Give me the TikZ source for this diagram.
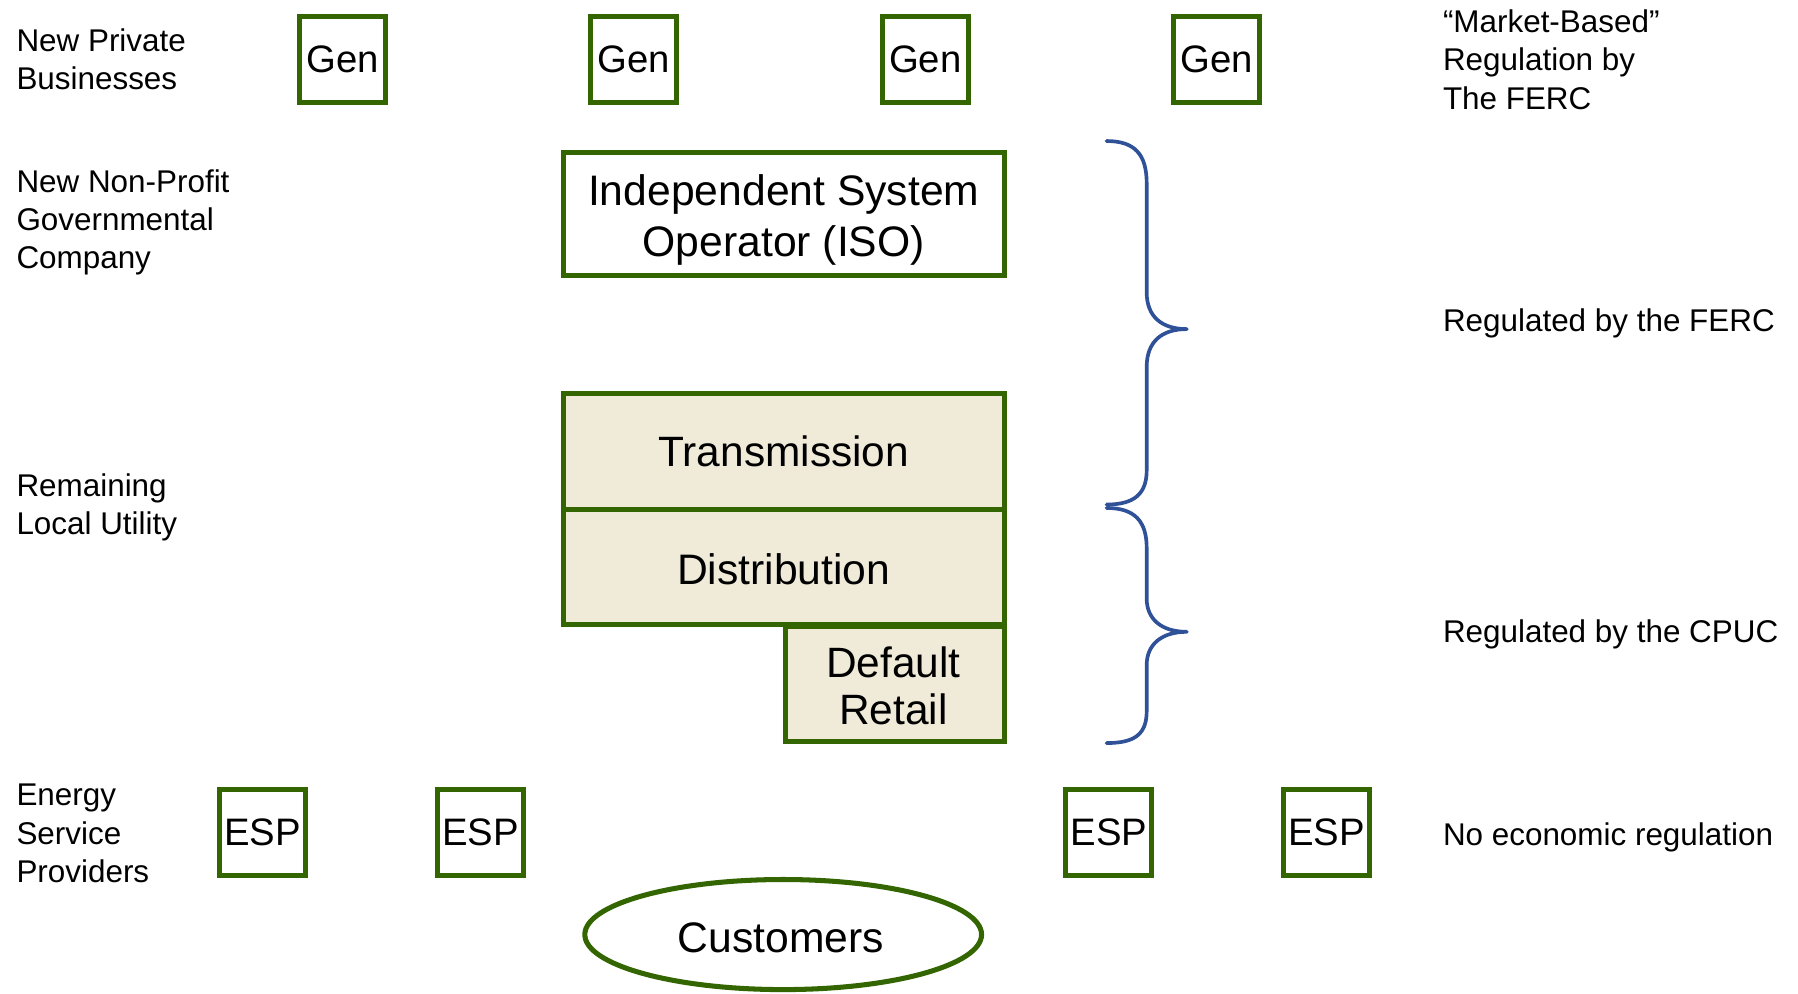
\documentclass[tikz,border=0pt]{standalone}
\usepackage{fontspec}
\setmainfont{Liberation Sans}
\usetikzlibrary{shapes.geometric}
\definecolor{boxgreen}{HTML}{336600}
\definecolor{tan}{HTML}{F0EBD9}
\definecolor{braceblue}{HTML}{2F5197}
\tikzset{
  lbl/.style={anchor=west, align=left, inner sep=0pt, font=\fontsize{13.7pt}{16.75pt}\selectfont},
  smallbox/.style={draw=boxgreen, line width=2.2pt, fill=white, minimum width=37.5pt, minimum height=37.5pt, inner sep=0pt, font=\fontsize{16.7pt}{19pt}\selectfont},
  bigbox/.style={draw=boxgreen, line width=2.2pt, inner sep=0pt, align=center, font=\fontsize{18.5pt}{22.5pt}\selectfont},
  bigtext/.style={inner sep=0pt, align=center, font=\fontsize{18.6pt}{22.5pt}\selectfont},
  brace/.style={draw=braceblue, line width=1.6pt, line cap=round, line join=round}
}
\begin{document}
\begin{tikzpicture}[x=0.5pt, y=-0.5pt]
\useasboundingbox (0,0) rectangle (1568,866);
% left labels
\node[lbl] (l1) at (14,51.5) {New Private\\Businesses};
\node[lbl] (l2) at (14,194) {New Non-Profit\\Governmental\\Company};
\node[lbl] (l3) at (14,442.5) {Remaining\\Local Utility};
\node[lbl] (l4) at (14,727) {Energy\\Service\\Providers};
% right labels
\node[lbl] (r1) at (1258,52) {“Market-Based”\\Regulation by\\The FERC};
\node[lbl] (r2) at (1258,282) {Regulated by the FERC};
\node[lbl] (r3) at (1258,553) {Regulated by the CPUC};
\node[lbl] (r4) at (1258,730) {No economic regulation};
% Gen boxes
\node[smallbox] (g1) at (299,51.5) {Gen};
\node[smallbox] (g2) at (552.5,51.5) {Gen};
\node[smallbox] (g3) at (807,51.5) {Gen};
\node[smallbox] (g4) at (1061,51.5) {Gen};
% ISO
\node[bigbox, fill=white, minimum width=192.5pt, minimum height=53.5pt] (iso) at (683.5,186.5) {};
\node[bigtext] (isot) at (683.5,192) {Independent System\\Operator (ISO)};
% utility stack
\node[bigbox, fill=tan, minimum width=192.5pt, minimum height=50.5pt] (tr) at (683.5,393.5) {Transmission};
\node[bigbox, fill=tan, minimum width=192.5pt, minimum height=50pt] (di) at (683.5,494.5) {};
\node[bigtext] (dit) at (683.5,496.5) {Distribution};
\node[bigbox, fill=tan, minimum width=95.5pt, minimum height=50.5pt, font=\fontsize{18.5pt}{20.5pt}\selectfont] (dr) at (780.5,596.5) {};
\node[bigtext, font=\fontsize{18.5pt}{20.5pt}\selectfont] (drt) at (779,598) {Default\\Retail};
% ESP boxes
\node[smallbox] (e1) at (229,726) {ESP};
\node[smallbox] (e2) at (419,726) {ESP};
\node[smallbox] (e3) at (967,726) {ESP};
\node[smallbox] (e4) at (1157,726) {ESP};
% customers
\node[ellipse, draw=boxgreen, line width=2.2pt, fill=white, minimum width=173pt, minimum height=48pt, inner sep=0pt] (cu) at (683,815) {};
\node[bigtext] (cut) at (681,818) {Customers};
% braces
\path[brace] (965,123) .. controls (990,123) and (1000,135) .. (1000,160) -- (1000,255)
  .. controls (1000,276) and (1013,287) .. (1035,287)
  .. controls (1013,287) and (1000,298) .. (1000,320) -- (1000,410)
  .. controls (1000,430) and (990,440) .. (965,440);
\path[brace] (965,443) .. controls (990,443) and (1000,455) .. (1000,478) -- (1000,522)
  .. controls (1000,540) and (1013,551) .. (1035,551)
  .. controls (1013,551) and (1000,562) .. (1000,580) -- (1000,620)
  .. controls (1000,640) and (990,648) .. (965,648);
\end{tikzpicture}
\end{document}
